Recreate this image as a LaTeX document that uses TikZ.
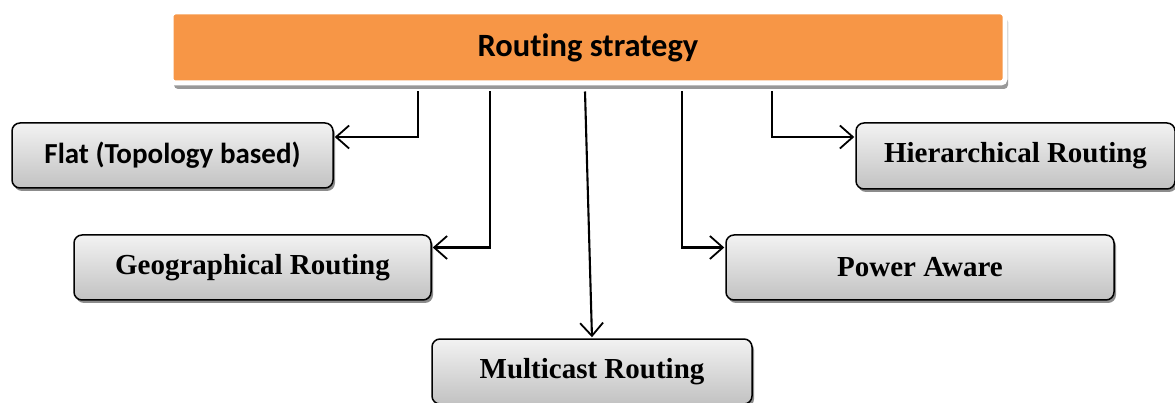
\documentclass[tikz,border=0pt]{standalone}
\usepackage{fontspec}
\setmainfont{Liberation Serif}
\newfontfamily\calib[Ligatures=NoCommon]{Carlito}
\usetikzlibrary{arrows.meta,shadows,calc}
\definecolor{topor}{HTML}{F79646}
\begin{document}
\begin{tikzpicture}[x=1pt,y=-1pt,
 topbox/.style={fill=topor, draw=white, line width=5pt, rounded corners=4pt,
   drop shadow={shadow xshift=3pt,shadow yshift=-6pt,fill=black!40,opacity=1},
   minimum width=834pt, minimum height=71pt, inner sep=0pt,
   font=\calib\bfseries\fontsize{32.5}{35}\selectfont},
 subbox/.style={draw=black, line width=1.5pt, rounded corners=8pt,
   top color=black!5, bottom color=black!24,
   drop shadow={shadow xshift=2pt,shadow yshift=-3pt,fill=black!45,opacity=1},
   inner sep=0pt, minimum height=65pt, font=\bfseries\fontsize{29}{32}\selectfont},
 conn/.style={draw, line width=2.1pt, -{Straight Barb[length=13pt,width=23pt,line width=1.8pt]}, shorten >=1pt}]
\useasboundingbox (0,0) rectangle (1175,403);
\node[topbox] (top) at (588,47.5) {Routing strategy};
\node[subbox, minimum width=321pt, font=\calib\bfseries\fontsize{29}{32}\selectfont] (flat) at (172.5,155.5) {Flat (Topology based)};
\node[subbox, minimum width=357pt] (geo) at (252.5,267.5) {Geographical Routing};
\node[subbox, minimum width=320pt] (mult) at (592,371.5) {Multicast Routing};
\node[subbox, minimum width=388pt] (pow) at (920,267.5) {Power Aware};
\node[subbox, minimum width=319pt, minimum height=66pt] (hier) at (1015.5,156) {Hierarchical Routing};
\coordinate (s1) at (418,0);
\coordinate (s2) at (490,0);
\coordinate (s3) at (585,0);
\coordinate (s4) at (682,0);
\coordinate (s5) at (772,0);
\draw[conn] ([yshift=-6pt]top.south -| s1) |- ([yshift=18.5pt]flat.east);
\draw[conn] ([yshift=-6pt]top.south -| s2) |- ([yshift=20pt]geo.west -| geo.east);
\draw[conn] ([yshift=-6pt]top.south -| s3) -- (mult.north);
\draw[conn] ([yshift=-6pt]top.south -| s4) |- ([yshift=20pt]pow.west);
\draw[conn] ([yshift=-6pt]top.south -| s5) |- ([yshift=19pt]hier.west);
\end{tikzpicture}
\end{document}
